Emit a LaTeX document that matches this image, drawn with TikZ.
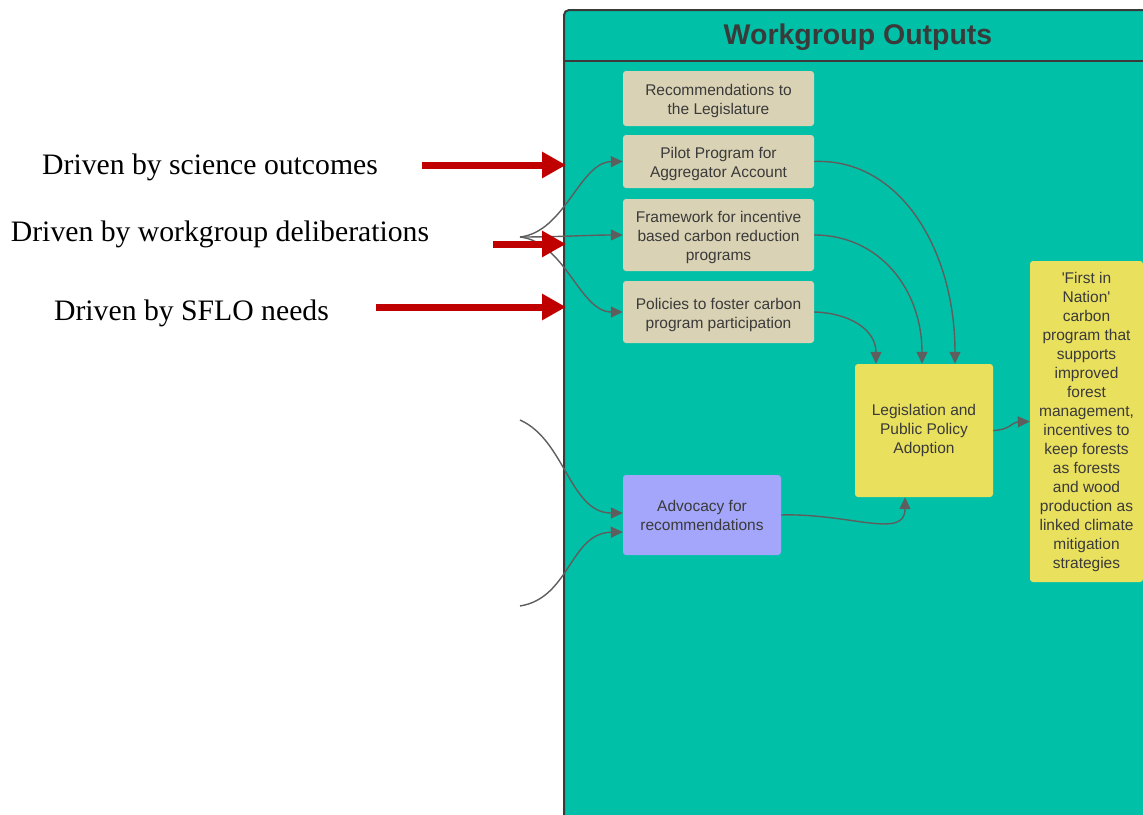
\documentclass[tikz,border=0pt]{standalone}
\usepackage{fontspec}
\setmainfont{Liberation Sans}
\newfontfamily\serifnote{Liberation Serif}
\usetikzlibrary{arrows.meta}
\definecolor{panel}{HTML}{00C1A8}
\definecolor{tanbox}{HTML}{D9D2B4}
\definecolor{yelbox}{HTML}{E9E05E}
\definecolor{lavbox}{HTML}{A3A6FA}
\definecolor{inkgray}{HTML}{3A3A3A}
\definecolor{linkgray}{HTML}{5E5E5E}
\definecolor{driver}{HTML}{C00000}
% taller first line, so that the text sits a little lower in its box
\newcommand\padtop{\rule{0pt}{17pt}}
\tikzset{
  box/.style={rectangle, rounded corners=3pt, inner sep=0pt, align=center,
    text=inkgray, font=\fontsize{15.5}{19}\selectfont},
  tanstep/.style={box, fill=tanbox, minimum width=191pt},
  conn/.style={draw=linkgray, line width=1.4pt, -{Triangle[length=12pt,width=11pt]}},
  redarrow/.style={draw=driver, line width=7pt, -{Triangle[length=24pt,width=25pt]}},
  drivertext/.style={font=\serifnote\fontsize{29.7}{33}\selectfont, inner sep=0pt}
}
\begin{document}
\begin{tikzpicture}[x=1pt,y=-1pt]
\useasboundingbox (0,0) rectangle (1143,814);
% outputs panel with its header
\fill[panel] (1143,820) -- (564,820) [rounded corners=5pt] -- (564,10) -- (1150,10) [sharp corners] -- (1150,820) -- cycle;
\draw[inkgray, line width=2pt] (564,820) [rounded corners=5pt] -- (564,10) -- (1150,10);
\draw[inkgray, line width=1.6pt] (564,61) -- (1150,61);
\node[text=inkgray, font=\bfseries\fontsize{28.5}{32}\selectfont] (title) at (858,37) {Workgroup Outputs};

% output boxes
\node[tanstep, minimum height=55pt] (rec) at (718.5,98.5) {\padtop Recommendations to\\the Legislature};
\node[tanstep, minimum height=53pt] (pilot) at (718.5,161.5) {\padtop Pilot Program for\\Aggregator Account};
\node[tanstep, minimum height=72pt] (frame) at (718.5,235) {\padtop Framework for incentive\\based carbon reduction\\programs};
\node[tanstep, minimum height=62pt] (policy) at (718.5,312) {\padtop Policies to foster carbon\\program participation};
\node[box, fill=yelbox, minimum width=138pt, minimum height=133pt] (leg) at (924,430.5) {Legislation and\\Public Policy\\Adoption};
\node[box, fill=yelbox, minimum width=113pt, minimum height=321pt] (first) at (1086.5,421.5)
  {\textquotesingle First in\\Nation\textquotesingle\\carbon\\program that\\supports\\improved\\forest\\management,\\incentives to\\keep forests\\as forests\\and wood\\production as\\linked climate\\mitigation\\strategies};
\node[box, fill=lavbox, minimum width=158pt, minimum height=80pt] (adv) at (702,515) {Advocacy for\\recommendations};

% driver labels and red arrows
\node[drivertext] (dsci) at (210,167) {Driven by science outcomes};
\node[drivertext] (dwork) at (220,234) {Driven by workgroup deliberations};
\node[drivertext] (dsflo) at (191.5,313) {Driven by SFLO needs};
\coordinate (sciS) at (422,165);
\coordinate (sciE) at (566,165);
\coordinate (workS) at (493,244);
\coordinate (workE) at (566,244);
\coordinate (sfloS) at (376,307);
\coordinate (sfloE) at (566,307);

% fan of inputs into the output boxes
\coordinate (fan) at (520,237);
\draw[conn] (fan) .. controls (565,232) and (580,162) .. (pilot.west);
\draw[conn] (fan) .. controls (560,237) and (590,235) .. (frame.west);
\draw[conn] (fan) .. controls (565,242) and (580,312) .. (policy.west);

% outputs feeding legislation
\draw[conn] (pilot.east) .. controls (900,158) and (955,250) .. ([xshift=31pt]leg.north);
\draw[conn] (frame.east) .. controls (880,235) and (922,290) .. ([xshift=-2pt]leg.north);
\draw[conn] (policy.east) .. controls (850,313) and (876,330) .. ([xshift=-48pt]leg.north);
\draw[conn] (leg.east) .. controls (1010,430) and (1012,422) .. (first.west);
\draw[conn] (adv.east) .. controls (850,513) and (905,540) .. ([xshift=-19pt]leg.south);

% inputs into advocacy
\coordinate (advin1) at (520,420);
\coordinate (advin2) at (520,606);
\draw[conn] (advin1) .. controls (565,440) and (570,513) .. ([yshift=2pt]adv.west);
\draw[conn] (advin2) .. controls (570,598) and (570,533) .. ([yshift=-17pt]adv.west);

\draw[redarrow] (sciS) -- (sciE);
\draw[redarrow] (workS) -- (workE);
\draw[redarrow] (sfloS) -- (sfloE);
\end{tikzpicture}
\end{document}
